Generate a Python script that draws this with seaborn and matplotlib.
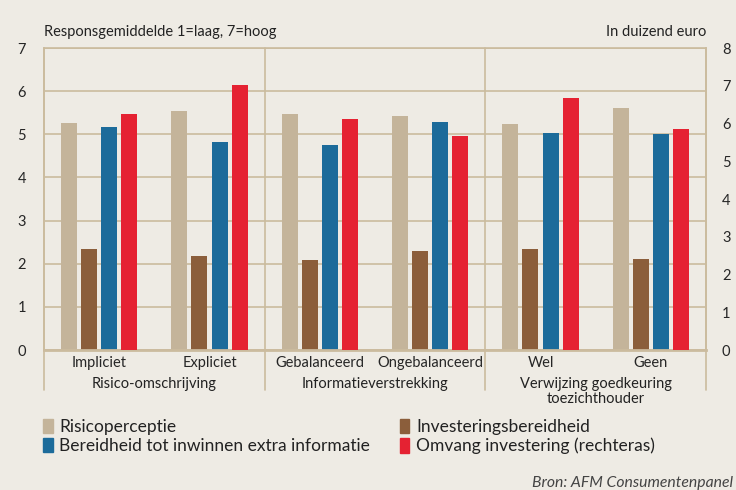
import pandas as pd
import seaborn as sns
import matplotlib.pyplot as plt
from matplotlib.patches import Patch

subgroups = ["Impliciet", "Expliciet", "Gebalanceerd", "Ongebalanceerd", "Wel", "Geen"]
groups = ["Risico-omschrijving", "Informatieverstrekking",
          "Verwijzing goedkeuring\ntoezichthouder"]
series = ["Risicoperceptie", "Investeringsbereidheid",
          "Bereidheid tot inwinnen extra informatie", "Omvang investering (rechteras)"]

risico = [5.27, 5.54, 5.48, 5.43, 5.24, 5.61]
investering = [2.34, 2.18, 2.08, 2.30, 2.34, 2.12]
informatie = [5.17, 4.82, 4.76, 5.29, 5.03, 5.00]
omvang = [6.25, 7.01, 6.12, 5.67, 6.67, 5.86]  # rechteras, duizend euro

colors = ["#c4b49a", "#8b5e3b", "#1c6b9a", "#e52232"]
bg = "#eeebe4"
tan = "#cbbb9e"

df = pd.DataFrame({
    "sub": subgroups * 4,
    "serie": [s for s in series for _ in subgroups],
    "waarde": risico + investering + informatie + omvang,
})

sns.set_theme(style="white")
plt.rcParams["font.family"] = ["Lato", "DejaVu Sans"]
plt.rcParams["text.color"] = "#222222"

fig = plt.figure(figsize=(7.36, 4.9), dpi=100, facecolor=bg)
ax = fig.add_axes([44 / 736, 140 / 490, 662 / 736, 302 / 490])
ax.set_facecolor(bg)
ax2 = ax.twinx()

common = dict(x="sub", y="waarde", hue="serie", hue_order=series, order=subgroups,
              palette=colors, width=0.727, gap=0.2, dodge=True, saturation=1,
              errorbar=None, legend=False, linewidth=0)
sns.barplot(data=df[df["serie"] != series[3]], ax=ax, **common)
sns.barplot(data=df[df["serie"] == series[3]], ax=ax2, **common)

ax.set_xlim(-0.5, 5.5)
ax.set_ylim(0, 7)
ax2.set_ylim(0, 8)
ax.set_yticks(range(8))
ax2.set_yticks(range(9))
ax.set_xlabel("")
ax.set_ylabel("")
ax2.set_ylabel("")
ax2.set_xlabel("")

ax.set_axisbelow(True)
ax.grid(axis="y", color=tan, lw=1.2)
ax.grid(axis="x", visible=False)
for s in ["top", "left", "right"]:
    ax.spines[s].set_color(tan)
    ax.spines[s].set_linewidth(1.2)
ax.spines["bottom"].set_color(tan)
ax.spines["bottom"].set_linewidth(2)
for s in ax2.spines.values():
    s.set_visible(False)

ax.tick_params(axis="y", length=0, pad=13, labelsize=10.5)
ax2.tick_params(axis="y", length=0, pad=11.5, labelsize=10.5)
ax.tick_params(axis="x", length=0, pad=4, labelsize=10.5)

# groepsscheidingen en groepslabels
for xpos in [-0.5, 1.5, 3.5, 5.5]:
    ax.plot([xpos, xpos], [-0.132, 1], transform=ax.get_xaxis_transform(),
            color=tan, lw=1.2, clip_on=False)
for i, g in enumerate(groups):
    ax.text(2 * i + 0.5, -0.09, g, transform=ax.get_xaxis_transform(),
            ha="center", va="top", fontsize=10.5, linespacing=1.05)

fig.text(44 / 736, 1 - 32 / 490, "Responsgemiddelde 1=laag, 7=hoog",
         ha="left", va="center", fontsize=10.5)
fig.text(706 / 736, 1 - 32 / 490, "In duizend euro",
         ha="right", va="center", fontsize=10.5)

handles = [Patch(color=c) for c in colors]
order = [0, 2, 1, 3]
fig.legend([handles[i] for i in order], [series[i] for i in order],
           ncol=2, loc="upper left", bbox_to_anchor=(43 / 736, 1 - 419 / 490),
           frameon=False, fontsize=12.5, handlelength=0.55, handleheight=0.9,
           handletextpad=0.4, columnspacing=1.7, labelspacing=0.15,
           borderpad=0, borderaxespad=0)

fig.text(733 / 736, 1 - 483 / 490, "Bron: AFM Consumentenpanel",
         ha="right", va="center", fontsize=11.3, style="italic", color="#444444")

fig.savefig("out.png", dpi=100, facecolor=bg)
